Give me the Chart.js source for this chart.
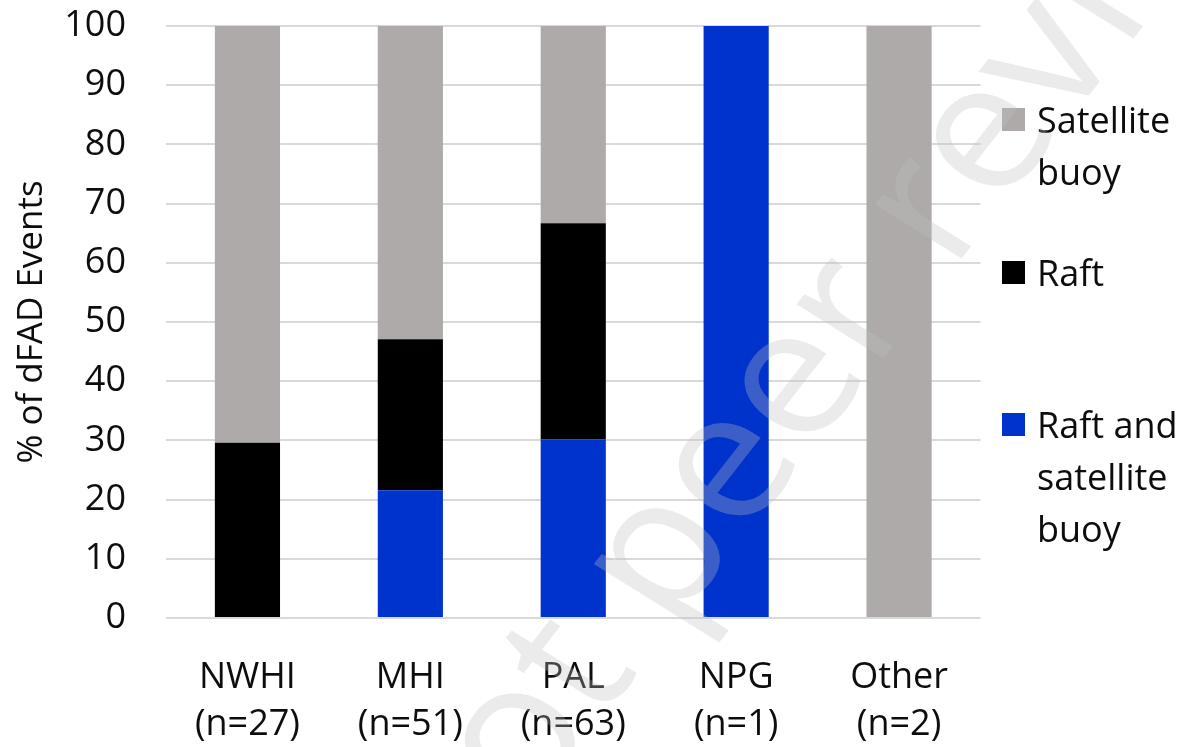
<!DOCTYPE html>
<html>
<head>
<meta charset="utf-8">
<script src="https://cdn.jsdelivr.net/npm/chart.js@4.4.0/dist/chart.umd.min.js"></script>
<style>
  html, body { margin: 0; padding: 0; background: #fff; }
  #wrap { position: relative; width: 1183px; height: 747px; overflow: hidden; }
  #c { position: absolute; left: 0; top: 0; }
  .lg-item { position: absolute; left: 1002px; font-family: "Open Sans", sans-serif; font-size: 36px; color: #0d0d0d; line-height: 52px; }
  .lg-box { position: absolute; left: 0; width: 23px; height: 23px; }
  .lg-text { position: absolute; left: 35px; white-space: nowrap; }
  #wm { position: absolute; left: 881px; top: 243px; transform: translate(-50%, -50%) rotate(-52deg) skewX(6deg);
        font-family: "Open Sans", sans-serif; font-size: 190px; line-height: 1; white-space: nowrap;
        color: rgba(191,191,191,0.31); pointer-events: none; z-index: 5; }
</style>
</head>
<body>
<div id="wrap">
  <canvas id="c" width="1183" height="747"></canvas>
  <div id="legend"></div>
  <div id="wm">Not peer reviewed</div>
</div>
<script>
// ---- data ----
const regions = ['NWHI', 'MHI', 'PAL', 'NPG', 'Other'];
const sampleSizes = [27, 51, 63, 1, 2];
const raftAndSatellite = [0, 21.6, 30.2, 100, 0];
const raft = [29.6, 25.5, 36.5, 0, 0];
const satelliteBuoy = [70.4, 52.9, 33.3, 0, 100];
const yTicks = [0, 10, 20, 30, 40, 50, 60, 70, 80, 90, 100];
const seriesNames = ['Raft and satellite buoy', 'Raft', 'Satellite buoy'];
const seriesColors = ['#0033CC', '#000000', '#AEAAAA'];

const labels = regions.map((r, i) => [r, '(n=' + sampleSizes[i] + ')']);
const seriesValues = [raftAndSatellite, raft, satelliteBuoy];

const FONT = '"Open Sans", sans-serif';
const TXT = '#0d0d0d';

new Chart(document.getElementById('c'), {
  type: 'bar',
  data: {
    labels: labels,
    datasets: seriesNames.map((n, i) => ({
      label: n,
      data: seriesValues[i],
      backgroundColor: seriesColors[i],
      borderWidth: 0,
      barPercentage: 0.4,
      categoryPercentage: 1.0
    }))
  },
  options: {
    responsive: false,
    animation: false,
    layout: { padding: { left: 0, right: 202.5, top: 26, bottom: 0 } },
    plugins: { legend: { display: false }, tooltip: { enabled: false } },
    scales: {
      x: {
        stacked: true,
        grid: { display: false, drawTicks: false },
        border: { display: false },
        ticks: { color: TXT, font: { family: FONT, size: 36, lineHeight: 1.31 }, padding: 36.5, maxRotation: 0, autoSkip: false },
        afterFit: (s) => { s.height = 129; s.paddingLeft = 0; s.paddingRight = 0; }
      },
      y: {
        stacked: true,
        min: 0, max: 100,
        afterBuildTicks: (s) => { s.ticks = yTicks.map(v => ({ value: v })); },
        grid: { color: '#d9d9d9', lineWidth: 2, drawTicks: false },
        border: { display: false },
        ticks: { color: TXT, font: { family: FONT, size: 36 }, padding: 40 },
        title: { display: true, text: '% of dFAD Events', color: TXT, font: { family: FONT, size: 35 }, padding: { top: 11, bottom: 0 } },
        afterFit: (s) => { s.width = 166; s.paddingTop = 0; s.paddingBottom = 0; }
      }
    }
  }
});

// ---- legend (HTML, top item = top of stack) ----
const legendLayout = [
  { idx: 2, lines: ['Satellite', 'buoy'], top: 94 },
  { idx: 1, lines: ['Raft'], top: 247 },
  { idx: 0, lines: ['Raft and', 'satellite', 'buoy'], top: 399 }
];
const lg = document.getElementById('legend');
legendLayout.forEach(it => {
  const d = document.createElement('div');
  d.className = 'lg-item';
  d.style.top = it.top + 'px';
  const b = document.createElement('div');
  b.className = 'lg-box';
  b.style.background = seriesColors[it.idx];
  b.style.top = '14px';
  const t = document.createElement('div');
  t.className = 'lg-text';
  t.innerHTML = it.lines.join('<br>');
  d.appendChild(b); d.appendChild(t);
  lg.appendChild(d);
});
</script>
</body>
</html>
